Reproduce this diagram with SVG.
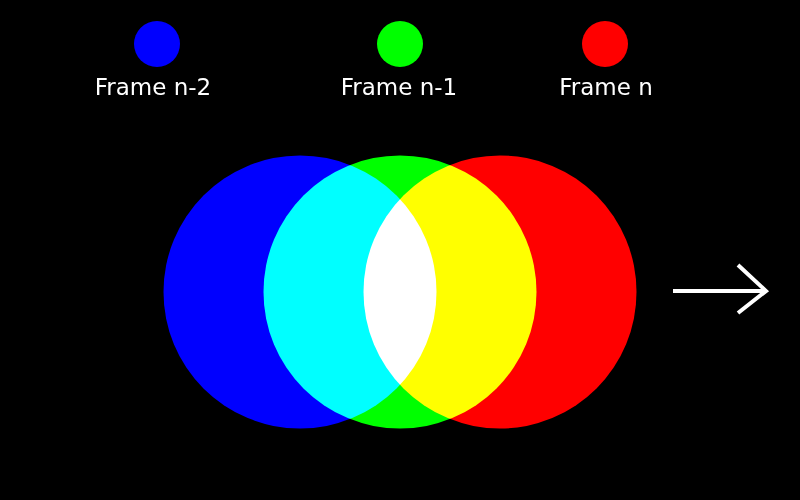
<svg xmlns="http://www.w3.org/2000/svg" width="800" height="500" viewBox="0 0 800 500">
<style>
.lbl{font-family:"DejaVu Sans",sans-serif;font-size:23px;fill:#fff;text-anchor:middle}
.big{mix-blend-mode:screen}
</style>
<rect width="800" height="500" fill="#000"/>
<g id="legend-n2"><circle cx="157" cy="44" r="23" fill="#00f"/><text class="lbl" x="153" y="95">Frame n-2</text></g>
<g id="legend-n1"><circle cx="400" cy="44" r="23" fill="#0f0"/><text class="lbl" x="399" y="95">Frame n-1</text></g>
<g id="legend-n"><circle cx="605" cy="44" r="23" fill="#f00"/><text class="lbl" x="606" y="95">Frame n</text></g>
<g id="frames" style="isolation:isolate">
<circle id="frame-n2" class="big" cx="300" cy="292" r="136.5" fill="#00f"/>
<circle id="frame-n1" class="big" cx="400" cy="292" r="136.5" fill="#0f0"/>
<circle id="frame-n" class="big" cx="500" cy="292" r="136.5" fill="#f00"/>
</g>
<g id="connectors" fill="none" stroke="#fff" stroke-width="4">
<line x1="673" y1="291" x2="766" y2="291"/>
<polyline points="738,265 766,291 738,313"/>
</g>
</svg>
